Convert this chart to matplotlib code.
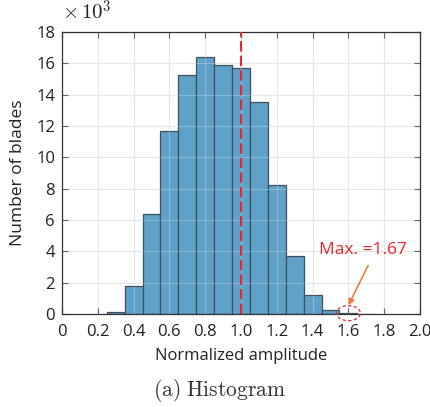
import matplotlib
matplotlib.use("Agg")
import matplotlib.pyplot as plt
from matplotlib.patches import Ellipse
import numpy as np

plt.rcParams['font.family'] = ['Open Sans', 'DejaVu Sans']
plt.rcParams['mathtext.fontset'] = 'cm'

bin_edges = [0.25, 0.35, 0.45, 0.55, 0.65, 0.75, 0.85, 0.95, 1.05, 1.15, 1.25, 1.35, 1.45, 1.55, 1.65, 1.75]
counts_k = [0.10, 1.77, 6.40, 11.67, 15.25, 16.40, 15.89, 15.68, 13.53, 8.22, 3.69, 1.21, 0.26, 0.04, 0.02]
x_ticks = [0, 0.2, 0.4, 0.6, 0.8, 1.0, 1.2, 1.4, 1.6, 1.8, 2.0]
x_ticklabels = ['0', '0.2', '0.4', '0.6', '0.8', '1.0', '1.2', '1.4', '1.6', '1.8', '2.0']
y_ticks = [0, 2, 4, 6, 8, 10, 12, 14, 16, 18]
ref_line = 1.0
max_value = 1.67

fig = plt.figure(figsize=(4.31, 4.07), dpi=100)
ax = fig.add_axes([0.1439, 0.2285, 0.8306, 0.6929])

lefts = np.array(bin_edges[:-1])
widths = np.diff(bin_edges)
ax.bar(lefts, counts_k, width=widths, align='edge',
       facecolor='#5fa1c9', edgecolor='#3f4f5c', linewidth=0.9, zorder=2)

# faint grid showing through the semi-transparent bars
for yt in y_ticks[1:-1]:
    ax.axhline(yt, color='white', alpha=0.25, linewidth=0.8, zorder=2.5)
for xt in x_ticks[1:-1]:
    ax.axvline(xt, color='white', alpha=0.25, linewidth=0.8, zorder=2.5)

ax.axvline(ref_line, color='#e8262b', linestyle=(0, (5, 2)), linewidth=1.5, zorder=3)

ax.set_xlim(0, 2)
ax.set_ylim(0, 18)
ax.set_xticks(x_ticks)
ax.set_xticklabels(x_ticklabels)
ax.set_yticks(y_ticks)
ax.grid(True, color='#dedede', linewidth=0.8, zorder=0)
ax.set_axisbelow(True)
ax.tick_params(direction='in', top=True, right=True, length=4, width=0.8,
               color='#333333', labelsize=12, labelcolor='#222222')
ax.tick_params(axis='x', pad=7)
ax.tick_params(axis='y', pad=5)
for s in ax.spines.values():
    s.set_color('#333333')
    s.set_linewidth(0.9)

ax.set_xlabel('Normalized amplitude', fontsize=12, color='#222222', labelpad=6)
ax.set_ylabel('Number of blades', fontsize=12.5, color='#222222', labelpad=7)

fig.text(0.144, 0.938, r'$\times\,10^3$', fontsize=15, color='#222222', ha='left', va='bottom')

ell = Ellipse((1.6, 0.05), 0.134, 0.96, fill=False, edgecolor='#e8262b',
              linestyle=(0, (2.5, 2)), linewidth=0.9, clip_on=False, zorder=4)
ax.add_patch(ell)
ax.annotate('', xy=(1.60, 0.55), xytext=(1.71, 3.1),
            arrowprops=dict(arrowstyle='-|>', color='#ee7d3a', lw=1.2,
                            mutation_scale=9, shrinkA=0, shrinkB=0), zorder=5)
ax.text(1.436, 4.1, 'Max. =%.2f' % max_value, color='#e8262b', fontsize=12.5,
        ha='left', va='center', zorder=5)

fig.text(0.51, 0.008, r'$\mathrm{(a)\ Histogram}$', fontsize=15.5, color='#333333',
         ha='center', va='bottom')

fig.savefig('out.png', dpi=100)
